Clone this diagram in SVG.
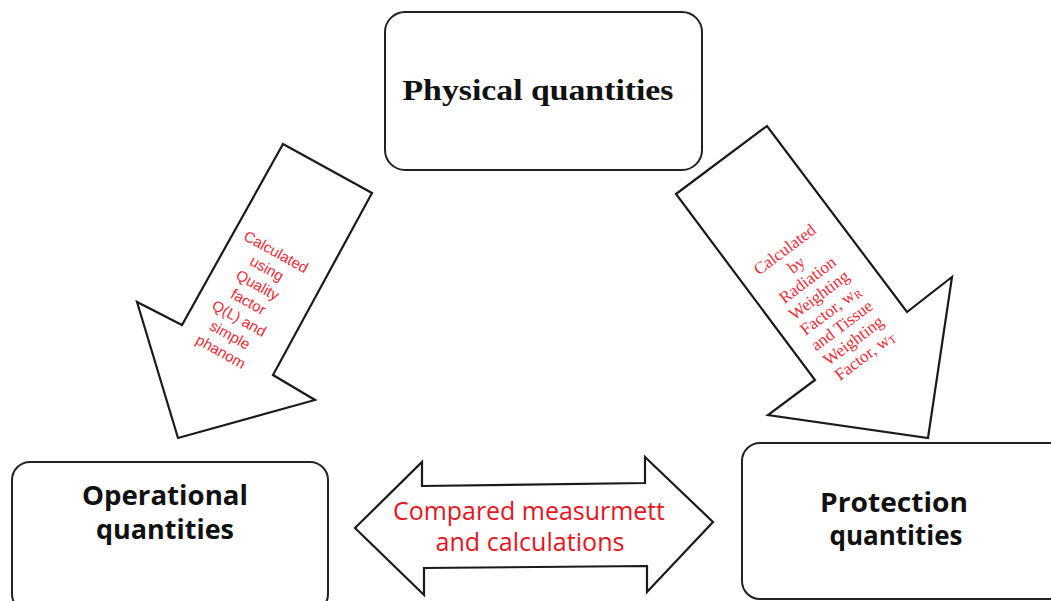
<svg xmlns="http://www.w3.org/2000/svg" width="1051" height="601" viewBox="0 0 1051 601">
<style>
.box{fill:#fff;stroke:#222;stroke-width:2}
.arr{fill:#fff;stroke:#1a1a1a;stroke-width:2.2;stroke-linejoin:miter}
.ttl{font-family:"Liberation Serif",serif;font-weight:bold;font-size:30px;fill:#111}
.lbl{font-family:"Open Sans","Liberation Sans",sans-serif;font-weight:bold;font-size:26px;fill:#111}
.red{font-family:"Open Sans","Liberation Sans",sans-serif;font-size:25px;fill:#e8141e}
.sm1{font-family:"Liberation Sans",sans-serif;font-size:15px;fill:#ee2a38}
.sm2{font-family:"Liberation Serif",serif;font-size:17px;fill:#ee2a38}
</style>
<rect width="1051" height="601" fill="#fff"/>
<g id="connectors">
<g id="arrow-left">
<polygon class="arr" points="283,144 372,193 273,375 315,400 178,438 137,302 182,325"/>
<g transform="translate(276,252) rotate(29)" text-anchor="middle" class="sm1">
<text x="0" y="5">Calculated</text>
<text x="0" y="24">using</text>
<text x="0" y="43">Quality</text>
<text x="0" y="62">factor</text>
<text x="0" y="81">Q(L) and</text>
<text x="0" y="100">simple</text>
<text x="0" y="119">phanom</text>
</g>
</g>
<g id="arrow-right">
<polygon class="arr" points="676,194 767,126 907,312 952,277 928,438 768,415 815,380"/>
<g transform="translate(785,250) rotate(-37)" text-anchor="middle" class="sm2">
<text x="0" y="5">Calculated</text>
<text x="0" y="24">by</text>
<text x="0" y="43">Radiation</text>
<text x="0" y="62">Weighting</text>
<text x="0" y="81">Factor, w<tspan font-size="11" dy="2">R</tspan></text>
<text x="0" y="100">and Tissue</text>
<text x="0" y="119">Weighting</text>
<text x="0" y="138">Factor, w<tspan font-size="11" dy="2">T</tspan></text>
</g>
</g>
<g id="arrow-both">
<polygon class="arr" points="355,528 422,462 422,486 645,483 645,457 713,522 647,592 647,566 424,568 424,595"/>
<text class="red" x="529" y="520" text-anchor="middle" textLength="272" lengthAdjust="spacingAndGlyphs">Compared measurmett</text>
<text class="red" x="530" y="551" text-anchor="middle" textLength="189" lengthAdjust="spacingAndGlyphs">and calculations</text>
</g>
</g>
<g id="node-physical">
<rect class="box" x="385" y="12" width="317" height="158" rx="20"/>
<text class="ttl" x="538" y="100" text-anchor="middle" textLength="271" lengthAdjust="spacingAndGlyphs">Physical quantities</text>
</g>
<g id="node-operational">
<rect class="box" x="12" y="462" width="316" height="150" rx="18"/>
<text class="lbl" x="165" y="505" text-anchor="middle" textLength="166" lengthAdjust="spacingAndGlyphs">Operational</text>
<text class="lbl" x="165" y="539" text-anchor="middle" textLength="138" lengthAdjust="spacingAndGlyphs">quantities</text>
</g>
<g id="node-protection">
<rect class="box" x="742" y="443" width="330" height="156" rx="18"/>
<text class="lbl" x="894" y="512" text-anchor="middle" textLength="148" lengthAdjust="spacingAndGlyphs">Protection</text>
<text class="lbl" x="896" y="545" text-anchor="middle" textLength="133" lengthAdjust="spacingAndGlyphs">quantities</text>
</g>
</svg>
